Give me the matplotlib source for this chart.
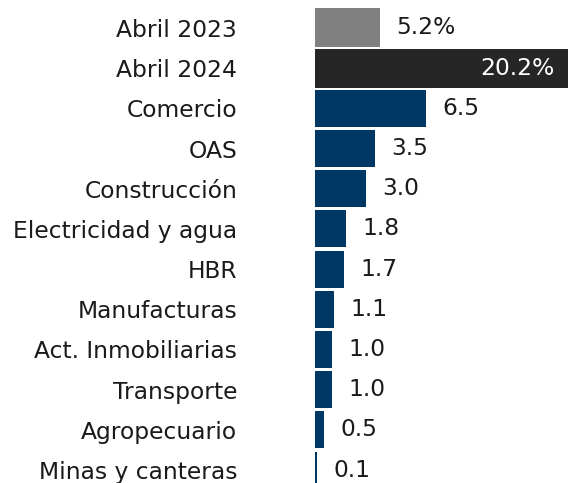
import matplotlib.pyplot as plt

# data
totales = ['Abril 2023', 'Abril 2024']
totales_val = [5.2, 20.2]
sectores = ['Comercio', 'OAS', 'Construcción', 'Electricidad y agua', 'HBR',
            'Manufacturas', 'Act. Inmobiliarias', 'Transporte', 'Agropecuario',
            'Minas y canteras']
sectores_val = [6.5, 3.5, 3.0, 1.8, 1.7, 1.1, 1.0, 1.0, 0.5, 0.1]

plt.rcParams['font.family'] = ['DejaVu Sans']
fs = 16.8

fig = plt.figure(figsize=(5.69, 4.83), dpi=100)
ax = fig.add_axes([315 / 569, 0, 254 / 569, 1])
ax2 = ax.twiny()

n_tot = len(totales)
y_sec = [n_tot + i for i in range(len(sectores))]
y_tot = list(range(n_tot))

# sectors: contribution (pp)
ax.barh(y_sec, sectores_val, height=0.92, color='#003865')
ax.set_xlim(0, 254 / 17)
for y, v in zip(y_sec, sectores_val):
    ax.annotate(f'{v:.1f}', (v, y), xytext=(12, 0), textcoords='offset points',
                va='center', ha='left', fontsize=fs, color='#1a1a1a')

# totals (growth %)
ax2.barh(y_tot, totales_val, height=0.97, color=['#808080', '#262626'])
ax2.set_xlim(0, 254 / 12.5)
ax2.annotate(f'{totales_val[0]:.1f}%', (totales_val[0], 0), xytext=(12, 0),
             textcoords='offset points', va='center', ha='left', fontsize=fs,
             color='#1a1a1a')
ax2.annotate(f'{totales_val[1]:.1f}%', (totales_val[1], 1), xytext=(-9, 0),
             textcoords='offset points', va='center', ha='right', fontsize=fs,
             color='white')

ax.set_yticks(y_tot + y_sec)
ax.set_yticklabels(totales + sectores, fontsize=fs, color='#1a1a1a')
ax.tick_params(axis='y', length=0, pad=56)
ax.tick_params(axis='x', bottom=False, labelbottom=False)
ax2.tick_params(axis='x', top=False, labeltop=False)
ax.set_ylim(11 + 13 / 40.2, -28 / 40.2)
for a in (ax, ax2):
    for s in a.spines.values():
        s.set_visible(False)

fig.savefig('out.png', dpi=100)
